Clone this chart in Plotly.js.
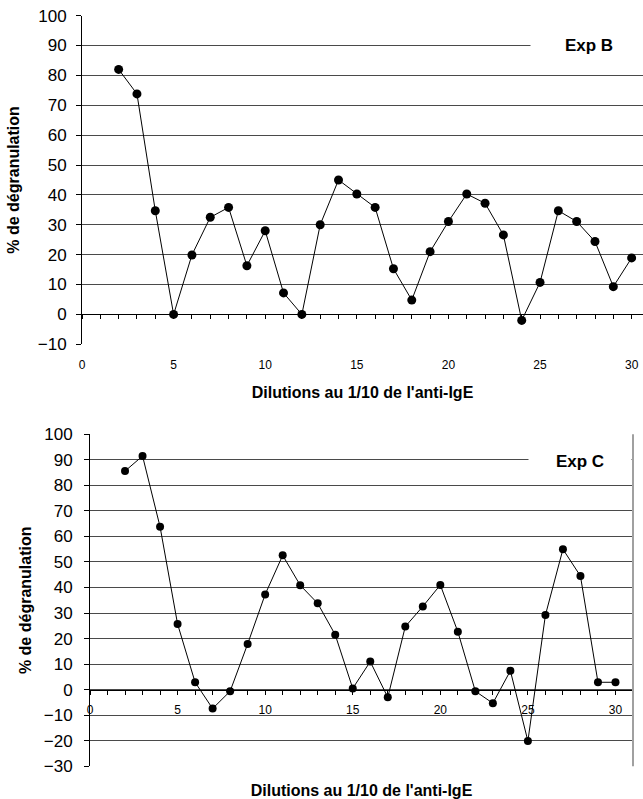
<!DOCTYPE html>
<html>
<head>
<meta charset="utf-8">
<script src="https://cdn.plot.ly/plotly-3.0.1.min.js"></script>
<style>
html,body{margin:0;padding:0;background:#fff;overflow:hidden;}
#chart{width:643px;height:799px;}
</style>
</head>
<body>
<div id="chart"></div>
<script>
// Dilution steps (x) shared by both experiments
const dilutions = [2,3,4,5,6,7,8,9,10,11,12,13,14,15,16,17,18,19,20,21,22,23,24,25,26,27,28,29,30];
// Exp B: % de dégranulation
const expB = [82,73.8,34.7,0,19.9,32.5,35.8,16.3,28,7.2,0,30,45,40.3,35.8,15.3,4.8,21,31.1,40.3,37.2,26.6,-2,10.7,34.7,31.1,24.4,9.3,18.9];
// Exp C: % de dégranulation
const expC = [85.6,91.5,63.8,25.7,2.9,-7.4,-0.6,17.9,37.3,52.6,40.9,33.8,21.5,0.5,11,-3,24.7,32.6,41,22.7,-0.6,-5.3,7.4,-20.1,29.2,55,44.5,2.9,2.9];
// Labels
const xTickVals = [0,5,10,15,20,25,30];
const xTitle = "Dilutions au 1/10 de l'anti-IgE";
const yTitle = "% de dégranulation";
const labelB = "Exp B";
const labelC = "Exp C";

const W = 643, H = 799;
const FONT = "Liberation Sans, Arial, sans-serif";
const grid = "#4a4a4a";

// plot areas in pixels
const topBox = {x0: 82, x1: 643, y0: 15.6, y1: 344.3};
const botBox = {x0: 90, x1: 633, y0: 434.3, y1: 766.3};
const px = v => v / W;
const py = v => 1 - v / H;

const topRange = [-10, 100], botRange = [-30, 100];
// paper position of y=0 in each plot (where the x axis crosses)
const zeroPos = (box, r) => py(box.y0 + (r[1] - 0) / (r[1] - r[0]) * (box.y1 - box.y0));

const lineStyle = {color: '#000', width: 1};
const traces = [
  {x: dilutions, y: expB, xaxis: 'x', yaxis: 'y', mode: 'lines+markers',
   line: lineStyle, marker: {color: '#000', size: 9}, showlegend: false, hoverinfo: 'x+y'},
  {x: dilutions, y: expC, xaxis: 'x2', yaxis: 'y2', mode: 'lines+markers',
   line: lineStyle, marker: {color: '#000', size: 8}, showlegend: false, hoverinfo: 'x+y'},
  // carriers so the crossing axes (at y = 0) are drawn; they draw nothing themselves
  {x: dilutions, y: expB, xaxis: 'x3', yaxis: 'y', mode: 'none', showlegend: false, hoverinfo: 'skip'},
  {x: dilutions, y: expC, xaxis: 'x4', yaxis: 'y2', mode: 'none', showlegend: false, hoverinfo: 'skip'}
];

const yCommon = {
  dtick: 10, showgrid: true, gridcolor: grid, gridwidth: 1,
  showline: true, linecolor: '#000', linewidth: 1,
  ticks: 'outside', ticklen: 5, tickcolor: '#000',
  tickfont: {family: FONT, size: 17, color: '#000'},
  zeroline: false, fixedrange: true
};

const layout = {
  width: W, height: H,
  margin: {l: 0, r: 0, t: 0, b: 0},
  paper_bgcolor: '#fff', plot_bgcolor: '#fff',
  font: {family: FONT, color: '#000'},
  // ---- top chart (Exp B)
  xaxis: {domain: [px(topBox.x0), px(topBox.x1)], anchor: 'y', range: [0, 30.62],
    tickvals: xTickVals, ticks: '', showline: false, showgrid: false, zeroline: false,
    ticklabelstandoff: 12, tickfont: {family: FONT, size: 12, color: '#000'},
    title: {text: xTitle, standoff: 15, font: {family: FONT, size: 16, color: '#000', weight: 'bold'}}},
  yaxis: Object.assign({}, yCommon, {domain: [py(topBox.y1), py(topBox.y0)], anchor: 'x', range: topRange,
    ticklabelstandoff: 6,
    title: {text: yTitle, standoff: 14, font: {family: FONT, size: 16, color: '#000', weight: 'bold'}}}),
  xaxis3: {overlaying: 'x', anchor: 'free', position: zeroPos(topBox, topRange), range: [0, 30.62],
    showline: true, linecolor: '#000', linewidth: 1, showgrid: false, zeroline: false,
    tickvals: xTickVals, ticks: 'outside', ticklen: 4, tickcolor: '#000', showticklabels: false,
    minor: {dtick: 1, tick0: 0, ticks: 'outside', ticklen: 4, tickcolor: '#000', showgrid: false}},
  // ---- bottom chart (Exp C)
  xaxis2: {domain: [px(botBox.x0), px(botBox.x1)], anchor: 'y2', range: [0, 31],
    tickvals: xTickVals, ticks: '', showline: false, showgrid: false, zeroline: false,
    showticklabels: false,
    title: {text: xTitle, standoff: 23, font: {family: FONT, size: 16, color: '#000', weight: 'bold'}}},
  yaxis2: Object.assign({}, yCommon, {domain: [py(botBox.y1), py(botBox.y0)], anchor: 'x2', range: botRange,
    ticklabelstandoff: 8,
    title: {text: yTitle, standoff: 8, font: {family: FONT, size: 16, color: '#000', weight: 'bold'}}}),
  xaxis4: {overlaying: 'x2', anchor: 'free', position: zeroPos(botBox, botRange), range: [0, 31],
    showline: true, linecolor: '#000', linewidth: 1, showgrid: false, zeroline: false,
    tickvals: xTickVals, ticks: 'outside', ticklen: 4, tickcolor: '#000',
    ticklabelstandoff: 5, tickfont: {family: FONT, size: 12, color: '#000'},
    minor: {dtick: 1, tick0: 0, ticks: 'outside', ticklen: 4, tickcolor: '#000', showgrid: false}},
  shapes: [
    // right border of the bottom plot area
    {type: 'line', xref: 'x2 domain', yref: 'y2 domain', x0: 1, x1: 1, y0: 0, y1: 1,
     line: {color: '#a0a0a0', width: 2}}
  ],
  annotations: [
    {text: '<b>' + labelB + '</b>', xref: 'paper', yref: 'paper', x: px(530), y: py(44.6),
     xanchor: 'left', yanchor: 'middle', align: 'center', showarrow: false, bgcolor: '#fff',
     width: 114, height: 22, font: {family: FONT, size: 17, color: '#000'}},
    {text: '<b>' + labelC + '</b>', xref: 'paper', yref: 'paper', x: px(528), y: py(461.5),
     xanchor: 'left', yanchor: 'middle', align: 'center', showarrow: false, bgcolor: '#fff',
     width: 100, height: 22, font: {family: FONT, size: 17, color: '#000'}}
  ]
};

Plotly.newPlot('chart', traces, layout, {staticPlot: true, displayModeBar: false});
</script>
</body>
</html>
